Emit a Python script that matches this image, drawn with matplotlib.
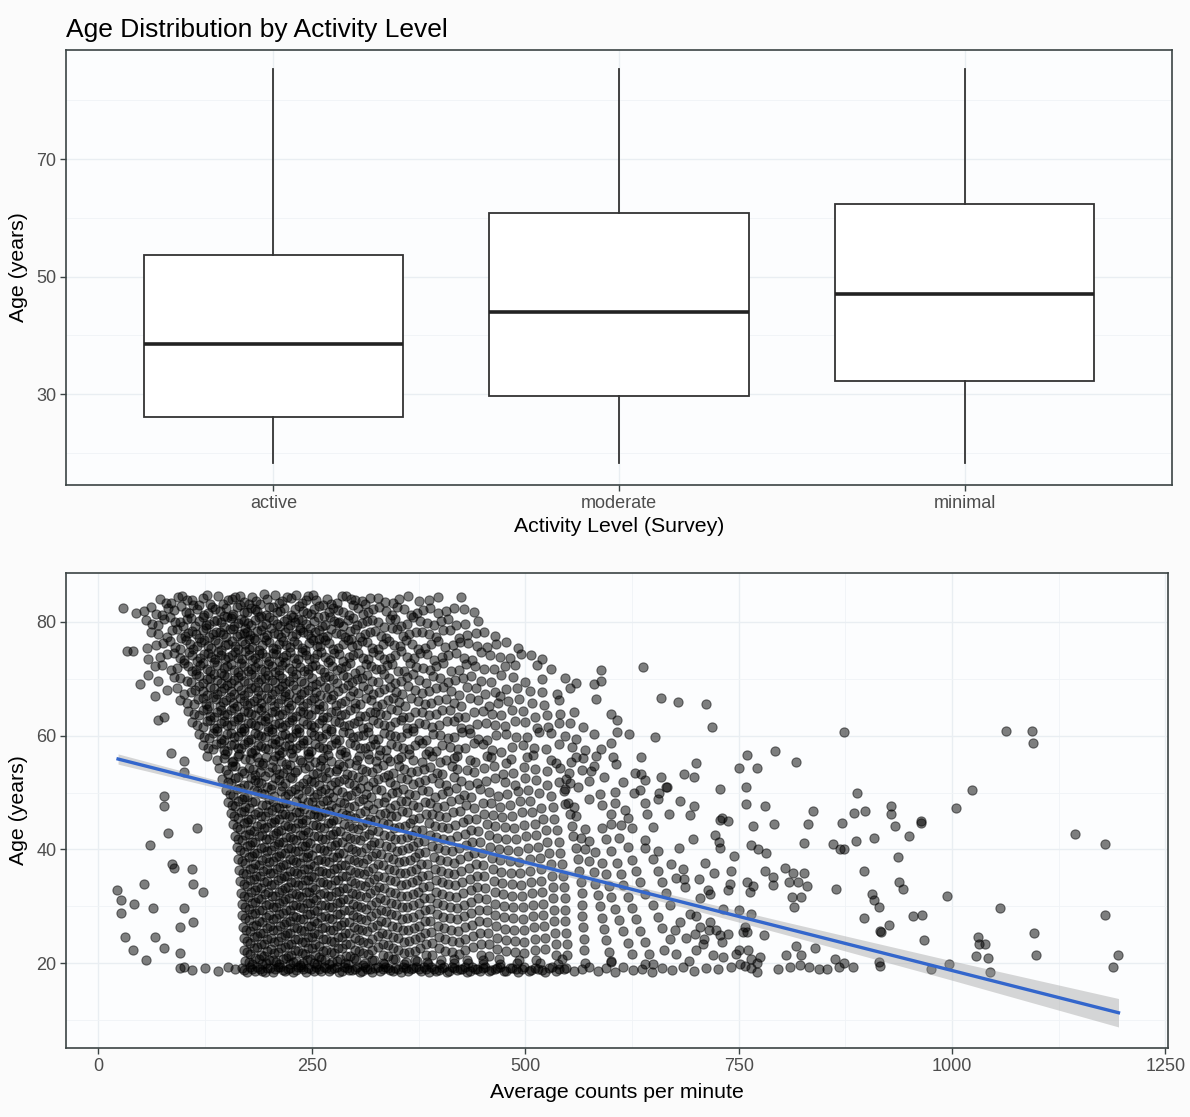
import numpy as np
import matplotlib.pyplot as plt
from matplotlib.ticker import FixedLocator

plt.rcParams['font.family'] = ['Liberation Sans', 'DejaVu Sans']

# --- box plot summary (age by activity level) ---
levels = ['active', 'moderate', 'minimal']
whisker_low = [18.3, 18.3, 18.3]
q1 = [26.1, 29.7, 32.2]
median = [38.6, 44.0, 47.1]
q3 = [53.7, 60.9, 62.3]
whisker_high = [85.3, 85.3, 85.3]

# --- scatter: (average counts per minute, age) ---
upper_pts = [
    # 83-85
    (72,84.1),(85,83.4),(98,84.5),(110,83.8),(122,84.2),(131,83.2),(140,84.6),(152,83.9),(160,84.3),(171,83.5),
    (180,84.4),(189,83.1),(198,84.0),(207,84.7),(215,83.6),(226,84.2),(238,83.3),(246,84.5),(255,83.9),(268,84.1),
    (279,83.4),(290,84.6),(301,83.8),(318,84.2),(336,83.5),(352,84.0),(375,83.6),(398,84.3),(425,84.4),(118,83.0),
    (176,83.1),(232,84.8),(263,83.0),(312,83.1),
    # 81-83
    (29,82.4),(44,81.5),(62,82.6),(75,81.3),(88,82.1),(97,82.8),(106,81.6),(115,82.3),(124,81.2),(133,82.7),
    (142,81.9),(150,82.4),(158,81.4),(166,82.9),(174,81.7),(183,82.2),(191,81.1),(200,82.6),(209,81.8),(217,82.4),
    (226,81.3),(235,82.8),(244,81.6),(253,82.2),(264,81.0),(275,82.5),(287,81.7),(298,82.9),(310,81.4),(322,82.3),
    (337,81.9),(350,82.6),(366,81.3),(380,82.1),(398,81.6),(416,82.4),(440,81.8),(186,82.0),(240,82.0),(156,81.0),
    # 79-81
    (56,80.3),(70,79.4),(84,80.8),(95,79.9),(104,80.5),(113,79.2),(122,80.9),(130,79.7),(139,80.4),(147,79.1),
    (155,80.7),(163,79.8),(171,80.2),(179,79.4),(188,80.9),(196,79.6),(204,80.4),(213,79.2),(221,80.6),(230,79.9),
    (239,80.3),(248,79.0),(257,80.8),(266,79.5),(276,80.1),(287,79.3),(298,80.7),(309,79.8),(321,80.3),(334,79.1),
    (348,80.6),(362,79.7),(377,80.2),(393,79.4),(410,80.5),(430,79.6),(118,80.1),(172,79.0),(228,80.9),(282,79.9),
    # 77-79
    (62,78.3),(80,77.4),(92,78.8),(101,77.6),(110,78.4),(118,77.1),(126,78.9),(134,77.8),(142,78.2),(150,77.3),
    (158,78.7),(166,77.9),(174,78.3),(182,77.2),(190,78.6),(198,77.7),(206,78.1),(214,77.4),(222,78.9),(231,77.8),
    (240,78.3),(249,77.1),(258,78.6),(268,77.6),(278,78.1),(289,77.3),(300,78.8),(312,77.9),(324,78.4),(337,77.2),
    (350,78.7),(364,77.8),(379,78.2),(395,77.4),(412,78.5),(432,77.7),(452,78.3),(176,77.0),(236,79.0),(296,77.0),
    # 75-77
    (57,75.4),(76,76.3),(90,75.6),(102,76.8),(111,75.3),(120,76.5),(128,75.8),(136,76.9),(144,75.1),(152,76.2),
    (160,75.7),(168,76.6),(176,75.2),(184,76.9),(192,75.9),(200,76.4),(208,75.3),(216,76.7),(224,75.6),(233,76.2),
    (242,75.1),(251,76.8),(260,75.7),(270,76.3),(281,75.4),(292,76.9),(303,75.9),(315,76.4),(327,75.2),(340,76.6),
    (353,75.8),(367,76.2),(382,75.4),(398,76.7),(415,75.9),(433,76.3),(455,75.6),(478,76.5),(188,75.0),(258,77.0),
    # 73-75
    (33,74.9),(41,74.9),(58,73.5),(80,74.4),(95,73.7),(106,74.8),(115,73.2),(124,74.3),(132,73.9),(140,74.7),
    (148,73.4),(156,74.1),(164,73.6),(172,74.9),(180,73.3),(188,74.4),(196,73.8),(204,74.6),(212,73.1),(220,74.2),
    (229,73.7),(238,74.8),(247,73.4),(256,74.3),(266,73.9),(276,74.6),(287,73.2),(298,74.1),(310,73.7),(322,74.8),
    (335,73.4),(348,74.2),(362,73.8),(377,74.5),(393,73.3),(410,74.1),(428,73.6),(448,74.7),(470,73.9),(495,74.3),
    (520,73.5),
    # 71-73
    (66,72.2),(85,71.5),(100,72.7),(110,71.3),(119,72.5),(127,71.8),(135,72.9),(143,71.1),(151,72.3),(159,71.6),
    (167,72.8),(175,71.4),(183,72.1),(191,71.7),(199,72.6),(207,71.2),(215,72.4),(223,71.9),(232,72.7),(241,71.3),
    (250,72.2),(259,71.8),(269,72.9),(279,71.5),(290,72.3),(301,71.1),(313,72.6),(325,71.7),(338,72.4),(351,71.4),
    (365,72.8),(380,71.9),(396,72.2),(413,71.3),(431,72.6),(452,71.8),(476,72.3),(514,72.4),(589,71.5),(638,72.1),
    # 69-71
    (49,69.1),(58,70.7),(88,70.4),(104,69.6),(114,70.8),(123,69.3),(131,70.2),(139,69.8),(147,70.6),(155,69.2),
    (163,70.4),(171,69.7),(179,70.9),(187,69.4),(195,70.1),(203,69.8),(211,70.7),(219,69.3),(228,70.3),(237,69.6),
    (246,70.8),(255,69.1),(265,70.4),(275,69.9),(286,70.6),(297,69.4),(309,70.2),(321,69.7),(334,70.9),(347,69.2),
    (361,70.3),(376,69.8),(392,70.5),(409,69.4),(427,70.2),(448,69.7),(472,70.6),(500,69.5),(546,70.1),(581,69.1),
    (589,69.7),
    # 67-69
    (66,66.9),(92,68.3),(108,67.6),(118,68.7),(127,67.2),(135,68.4),(143,67.8),(151,68.9),(159,67.4),(167,68.1),
    (175,67.7),(183,68.6),(191,67.1),(199,68.3),(207,67.9),(215,68.8),(223,67.3),(232,68.2),(241,67.6),(250,68.7),
    (260,67.2),(270,68.4),(281,67.8),(292,68.9),(304,67.5),(316,68.2),(329,67.7),(342,68.6),(356,67.3),(371,68.1),
    (387,67.8),(404,68.5),(422,67.2),(442,68.3),(465,67.7),(490,68.4),(520,67.6),(553,68.3),(470,67.0),
    # 65-67
    (96,66.3),(112,65.5),(122,66.7),(130,65.2),(138,66.4),(146,65.9),(154,66.8),(162,65.3),(170,66.1),(178,65.7),
    (186,66.6),(194,65.1),(202,66.3),(210,65.8),(218,66.9),(226,65.4),(235,66.2),(244,65.7),(253,66.7),(263,65.2),
    (273,66.4),(284,65.8),(295,66.9),(307,65.5),(319,66.2),(332,65.6),(345,66.7),(359,65.3),(374,66.1),(390,65.8),
    (407,66.5),(425,65.2),(445,66.3),(468,65.7),(493,66.4),(522,65.4),(583,66.5),(659,66.7),(679,65.9),(712,65.6),
    # 63-65
    (105,64.3),(118,63.6),(127,64.7),(135,63.2),(143,64.5),(151,63.8),(159,64.9),(167,63.3),(175,64.2),(183,63.7),
    (191,64.6),(199,63.1),(207,64.4),(215,63.9),(223,64.8),(231,63.4),(240,64.1),(249,63.6),(258,64.7),(268,63.2),
    (278,64.3),(289,63.8),(300,64.9),(312,63.5),(324,64.2),(337,63.7),(350,64.6),(364,63.3),(379,64.1),(395,63.8),
    (412,64.5),(430,63.2),(450,64.3),(472,63.7),(497,64.4),(525,63.6),(557,64.2),(70,62.7),(77,63.2),(600,63.9),
    # 61-63
    (110,62.4),(122,61.6),(131,62.8),(139,61.3),(147,62.5),(155,61.9),(163,62.9),(171,61.4),(179,62.2),(187,61.7),
    (195,62.6),(203,61.1),(211,62.3),(219,61.8),(227,62.7),(235,61.3),(244,62.1),(253,61.6),(262,62.8),(272,61.2),
    (282,62.4),(293,61.9),(304,62.6),(316,61.5),(328,62.2),(341,61.7),(354,62.8),(368,61.3),(383,62.1),(399,61.8),
    (416,62.5),(434,61.2),(454,62.3),(476,61.7),(500,62.4),(527,61.6),(553,62.3),(568,61.5),(607,62.7),(719,61.5),
    (873,60.6),
    # 59-61
    (118,60.3),(130,59.6),(139,60.8),(147,59.3),(155,60.5),(163,59.9),(171,60.9),(179,59.4),(187,60.2),(195,59.7),
    (203,60.6),(211,59.1),(219,60.3),(227,59.8),(235,60.7),(244,59.3),(253,60.1),(262,59.6),(272,60.8),(282,59.2),
    (293,60.4),(304,59.9),(316,60.6),(328,59.5),(341,60.2),(355,59.7),(369,60.8),(384,59.3),(400,60.1),(417,59.8),
    (435,60.5),(455,59.2),(477,60.3),(502,59.7),(530,60.4),(546,60.0),(581,60.3),(608,60.6),(621,60.3),(652,59.7),
    (1063,60.9),(1094,60.9),
    # 57-59
    (122,58.4),(134,57.6),(143,58.8),(151,57.3),(159,58.5),(167,57.9),(175,58.9),(183,57.4),(191,58.2),(199,57.7),
    (207,58.6),(215,57.1),(223,58.3),(231,57.8),(240,58.7),(249,57.3),(258,58.1),(268,57.6),(278,58.8),(289,57.2),
    (300,58.4),(312,57.9),(324,58.6),(337,57.5),(350,58.2),(364,57.7),(379,58.8),(395,57.3),(412,58.1),(430,57.8),
    (450,58.5),(472,57.2),(497,58.3),(524,57.7),(555,58.1),(589,57.7),(600,58.7),(1095,58.7),
]

lower_pts = [
    # 55-57
    (85,56.9),(100,55.6),(127,56.4),(139,55.7),(148,56.8),(156,55.3),(164,56.5),(172,55.9),(180,56.9),(188,55.4),
    (196,56.2),(204,55.7),(212,56.6),(220,55.1),(228,56.3),(236,55.8),(245,56.7),(254,55.3),(263,56.1),(273,55.6),
    (283,56.8),(294,55.2),(305,56.4),(317,55.9),(329,56.6),(342,55.5),(355,56.2),(369,55.7),(384,56.8),(400,55.3),
    (417,56.1),(435,55.8),(455,56.5),(477,55.2),(502,56.3),(530,55.7),(554,55.3),(560,56.3),(583,56.5),(603,56.3),
    (606,55.0),(636,56.2),(700,55.2),(760,56.6),(793,57.3),(817,55.3),
    # 53-55
    (100,53.6),(141,54.4),(152,53.2),(160,54.7),(168,53.8),(176,54.3),(184,53.1),(192,54.9),(200,53.6),(208,54.2),
    (216,53.4),(224,54.8),(233,53.9),(242,54.3),(251,53.2),(260,54.6),(270,53.7),(280,54.1),(291,53.3),(302,54.8),
    (314,53.8),(326,54.4),(339,53.1),(352,54.6),(366,53.7),(381,54.2),(397,53.4),(414,54.7),(432,53.9),(452,54.3),
    (474,53.2),(498,54.5),(525,53.8),(541,54.4),(551,53.5),(577,53.8),(580,54.6),(629,53.5),(636,53.2),(686,53.3),
    (751,54.4),(771,54.4),
    # 51-53
    (145,52.3),(155,51.6),(163,52.8),(171,51.3),(179,52.5),(187,51.9),(195,52.9),(203,51.4),(211,52.2),(219,51.7),
    (227,52.6),(235,51.1),(244,52.3),(253,51.8),(262,52.7),(272,51.3),(282,52.1),(293,51.6),(304,52.8),(316,51.2),
    (328,52.4),(341,51.9),(354,52.6),(368,51.5),(383,52.2),(399,51.7),(416,52.8),(434,51.3),(454,52.1),(476,51.8),
    (500,52.5),(526,51.4),(548,52.3),(553,51.6),(592,52.7),(614,51.8),(640,52.2),(659,52.7),(698,52.7),(666,51.0),
    # 49-51
    (77,49.4),(150,50.4),(158,49.6),(166,50.8),(174,49.3),(182,50.5),(190,49.9),(198,50.9),(206,49.4),(214,50.2),
    (222,49.7),(230,50.6),(238,49.1),(247,50.3),(256,49.8),(265,50.7),(275,49.3),(285,50.1),(296,49.6),(307,50.8),
    (319,49.2),(331,50.4),(344,49.9),(357,50.6),(371,49.5),(386,50.2),(402,49.7),(419,50.8),(437,49.3),(457,50.1),
    (479,49.8),(503,50.5),(530,49.4),(547,50.6),(562,50.9),(587,49.8),(627,49.9),(634,50.5),(657,50.0),(665,50.9),
    (728,50.6),(759,50.9),(889,50.0),(1023,50.5),
    # 47-49
    (77,47.6),(152,48.4),(160,47.6),(168,48.8),(176,47.3),(184,48.5),(192,47.9),(200,48.9),(208,47.4),(216,48.2),
    (224,47.7),(232,48.6),(241,47.1),(250,48.3),(259,47.8),(268,48.7),(278,47.3),(288,48.1),(299,47.6),(310,48.8),
    (322,47.2),(334,48.4),(347,47.9),(360,48.6),(374,47.5),(389,48.2),(405,47.7),(422,48.8),(440,47.3),(460,48.1),
    (482,47.8),(506,48.5),(532,47.4),(550,48.2),(557,47.5),(575,48.8),(605,48.2),(617,47.0),(656,48.8),(681,48.5),
    (698,47.7),(759,48.0),(781,47.7),(929,47.7),(1005,47.3),
    # 45-47
    (155,46.4),(163,45.6),(171,46.8),(179,45.3),(187,46.5),(195,45.9),(203,46.9),(211,45.4),(219,46.2),(227,45.7),
    (235,46.6),(243,45.1),(252,46.3),(261,45.8),(270,46.7),(280,45.3),(290,46.1),(301,45.6),(312,46.8),(324,45.2),
    (336,46.4),(349,45.9),(362,46.6),(376,45.5),(391,46.2),(407,45.7),(424,46.8),(442,45.3),(462,46.1),(484,45.8),
    (508,46.5),(534,45.4),(552,46.3),(643,46.3),(669,46.2),(693,46.0),(731,45.5),(737,45.0),(728,45.1),(837,46.7),
    (885,46.4),(898,46.7),(928,46.2),(964,45.0),
    # 43-45
    (116,43.7),(158,44.4),(166,43.6),(174,44.8),(182,43.3),(190,44.5),(198,43.9),(206,44.9),(214,43.4),(222,44.2),
    (230,43.7),(238,44.6),(246,43.1),(255,44.3),(264,43.8),(273,44.7),(283,43.3),(293,44.1),(304,43.6),(315,44.8),
    (327,43.2),(339,44.4),(352,43.9),(365,44.6),(379,43.5),(394,44.2),(410,43.7),(427,44.8),(445,43.3),(465,44.1),
    (487,43.8),(511,44.5),(537,43.4),(555,44.2),(570,43.6),(600,44.5),(625,43.8),(650,44.0),(767,44.2),(792,44.4),
    (831,44.4),(871,44.7),(933,44.2),(964,44.7),(81,42.9),
    # 41-43
    (160,42.4),(168,41.6),(176,42.8),(184,41.3),(192,42.5),(200,41.9),(208,42.9),(216,41.4),(224,42.2),(232,41.7),
    (240,42.6),(248,41.1),(257,42.3),(266,41.8),(275,42.7),(285,41.3),(295,42.1),(306,41.6),(317,42.8),(329,41.2),
    (341,42.4),(354,41.9),(367,42.6),(381,41.5),(396,42.2),(412,41.7),(429,42.8),(447,41.3),(467,42.1),(489,41.8),
    (513,42.5),(539,41.4),(556,42.3),(575,41.5),(610,42.0),(640,41.6),(696,41.9),(722,42.5),(727,41.3),(826,41.2),
    (887,41.5),(861,40.9),(909,42.1),(950,42.3),(1144,42.7),
    # 39-41
    (60,40.7),(162,40.4),(170,39.6),(178,40.8),(186,39.3),(194,40.5),(202,39.9),(210,40.9),(218,39.4),(226,40.2),
    (234,39.7),(242,40.6),(250,39.1),(259,40.3),(268,39.8),(277,40.7),(287,39.3),(297,40.1),(308,39.6),(319,40.8),
    (331,39.2),(343,40.4),(356,39.9),(369,40.6),(383,39.5),(398,40.2),(414,39.7),(431,40.8),(449,39.3),(469,40.1),
    (491,39.8),(515,40.5),(541,39.4),(560,40.2),(582,39.6),(620,40.4),(655,39.8),(680,40.2),(728,40.3),(764,40.7),
    (773,40.0),(782,39.3),(869,40.0),(874,40.0),(1179,40.9),
    # 37-39
    (86,37.5),(164,38.4),(172,37.6),(180,38.8),(188,37.3),(196,38.5),(204,37.9),(212,38.9),(220,37.4),(228,38.2),
    (236,37.7),(244,38.6),(252,37.1),(261,38.3),(270,37.8),(279,38.7),(289,37.3),(299,38.1),(310,37.6),(321,38.8),
    (333,37.2),(345,38.4),(358,37.9),(371,38.6),(385,37.5),(400,38.2),(416,37.7),(433,38.8),(451,37.3),(471,38.1),
    (493,37.8),(517,38.5),(543,37.4),(562,38.3),(590,37.6),(625,38.2),(671,37.5),(711,37.7),(744,38.9),(937,38.6),
    # 35-37
    (88,36.8),(110,36.5),(165,36.4),(173,35.6),(181,36.8),(189,35.3),(197,36.5),(205,35.9),(213,36.9),(221,35.4),
    (229,36.2),(237,35.7),(245,36.6),(253,35.1),(262,36.3),(271,35.8),(280,36.7),(290,35.3),(300,36.1),(311,35.6),
    (322,36.8),(334,35.2),(346,36.4),(359,35.9),(372,36.6),(386,35.5),(401,36.2),(417,35.7),(434,36.8),(452,35.3),
    (472,36.1),(494,35.8),(518,36.5),(544,35.4),(563,36.3),(595,35.6),(630,36.2),(677,35.0),(685,36.6),(721,35.8),
    (741,36.2),(781,36.2),(790,35.2),(804,36.8),(814,35.9),(826,35.9),(897,36.2),
    # 33-35
    (53,33.9),(111,34.0),(166,34.4),(174,33.6),(182,34.8),(190,33.3),(198,34.5),(206,33.9),(214,34.9),(222,33.4),
    (230,34.2),(238,33.7),(246,34.6),(254,33.1),(263,34.3),(272,33.8),(281,34.7),(291,33.3),(301,34.1),(312,33.6),
    (323,34.8),(335,33.2),(347,34.4),(360,33.9),(373,34.6),(387,33.5),(402,34.2),(418,33.7),(435,34.8),(453,33.3),
    (473,34.1),(495,33.8),(519,34.5),(545,33.4),(565,34.3),(598,33.6),(635,34.2),(686,34.8),(687,33.4),(704,34.8),
    (740,33.9),(760,34.3),(767,33.5),(790,33.7),(809,34.2),(819,34.2),(830,33.5),(864,33.0),(938,34.2),(943,33.0),
    # 31-33
    (22,32.8),(26,31.2),(123,32.5),(167,32.4),(175,31.6),(183,32.8),(191,31.3),(199,32.5),(207,31.9),(215,32.9),
    (223,31.4),(231,32.2),(239,31.7),(247,32.6),(255,31.1),(264,32.3),(273,31.8),(282,32.7),(292,31.3),(302,32.1),
    (313,31.6),(324,32.8),(336,31.2),(348,32.4),(361,31.9),(374,32.6),(388,31.5),(403,32.2),(419,31.7),(436,32.8),
    (454,31.3),(474,32.1),(496,31.8),(520,32.5),(546,31.4),(566,32.3),(600,31.6),(640,32.2),(705,31.5),(714,32.8),
    (717,32.1),(737,32.8),(763,32.6),(813,31.7),(823,31.7),(906,32.2),(908,31.2),(994,31.8),
    # 29-31
    (42,30.4),(64,29.7),(100,29.7),(168,30.4),(176,29.6),(184,30.8),(192,29.3),(200,30.5),(208,29.9),(216,30.9),
    (224,29.4),(232,30.2),(240,29.7),(248,30.6),(256,29.1),(265,30.3),(274,29.8),(283,30.7),(293,29.3),(303,30.1),
    (314,29.6),(325,30.8),(337,29.2),(349,30.4),(362,29.9),(375,30.6),(389,29.5),(404,30.2),(420,29.7),(437,30.8),
    (455,29.3),(475,30.1),(497,29.8),(521,30.5),(547,29.4),(567,30.3),(605,29.6),(650,30.2),(732,29.6),(751,29.3),
    (815,29.9),(915,29.9),(1056,29.7),
    # 27-29
    (26,28.8),(111,27.2),(168,28.4),(176,27.6),(184,28.8),(192,27.3),(200,28.5),(208,27.9),(216,28.9),(224,27.4),
    (232,28.2),(240,27.7),(248,28.6),(256,27.1),(265,28.3),(274,27.8),(283,28.7),(293,27.3),(303,28.1),(314,27.6),
    (325,28.8),(337,27.2),(349,28.4),(362,27.9),(375,28.6),(389,27.5),(404,28.2),(420,27.7),(437,28.8),(455,27.3),
    (475,28.1),(497,27.8),(521,28.5),(547,27.4),(567,28.3),(610,27.6),(655,28.2),(681,27.2),(693,28.7),(717,27.2),
    (765,28.6),(897,28.0),(954,28.3),(965,28.5),(1179,28.5),
    # 25-27
    (96,26.4),(169,26.4),(177,25.6),(185,26.8),(193,25.3),(201,26.5),(209,25.9),(217,26.9),(225,25.4),(233,26.2),
    (241,25.7),(249,26.6),(257,25.1),(266,26.3),(275,25.8),(284,26.7),(294,25.3),(304,26.1),(315,25.6),(326,26.8),
    (338,25.2),(350,26.4),(363,25.9),(376,26.6),(390,25.5),(405,26.2),(421,25.7),(438,26.8),(456,25.3),(476,26.1),
    (498,25.8),(522,26.5),(548,25.4),(568,26.3),(615,25.6),(660,26.2),(675,25.9),(699,25.2),(715,25.8),(724,25.9),
    (738,25.2),(755,25.5),(760,25.5),(758,26.4),(926,26.7),(917,25.5),(916,25.6),(1096,25.3),
    # 23-25
    (31,24.7),(66,24.7),(170,24.4),(178,23.6),(186,24.8),(194,23.3),(202,24.5),(210,23.9),(218,24.9),(226,23.4),
    (234,24.2),(242,23.7),(250,24.6),(258,23.1),(267,24.3),(276,23.8),(285,24.7),(295,23.3),(305,24.1),(316,23.6),
    (327,24.8),(339,23.2),(351,24.4),(364,23.9),(377,24.6),(391,23.5),(406,24.2),(422,23.7),(439,24.8),(457,23.3),
    (477,24.1),(499,23.8),(523,24.5),(549,23.4),(569,24.3),(620,23.6),(670,24.3),(688,24.5),(708,23.4),(728,24.9),
    (730,23.7),(780,24.9),(817,23.0),(967,24.1),(1030,24.7),(1032,23.3),(1039,23.4),
    # 21-23
    (41,22.4),(77,22.7),(95,21.8),(170,22.4),(178,21.6),(186,22.8),(194,21.3),(202,22.5),(210,21.9),(218,22.9),
    (226,21.4),(234,22.2),(242,21.7),(250,22.6),(258,21.1),(267,22.3),(276,21.8),(285,22.7),(295,21.3),(305,22.1),
    (316,21.6),(327,22.8),(339,21.2),(351,22.4),(364,21.9),(377,22.6),(391,21.5),(406,22.2),(422,21.7),(439,22.8),
    (457,21.3),(477,22.1),(499,21.8),(523,22.5),(549,21.4),(569,22.3),(625,21.6),(662,22.4),(677,21.7),(720,21.5),
    (732,21.1),(747,21.7),(751,22.3),(761,22.3),(775,21.1),(806,21.5),(823,21.4),(840,22.7),(1028,21.2),(1042,20.9),
    (1098,21.5),(1194,21.5),
    # 19.6-21
    (56,20.6),(172,20.4),(180,19.8),(188,20.8),(196,20.1),(204,20.6),(212,19.9),(220,20.9),(228,20.2),(236,19.7),
    (244,20.5),(252,20.0),(261,20.8),(270,19.8),(279,20.4),(289,20.1),(299,20.9),(310,19.7),(321,20.5),(333,20.0),
    (345,20.7),(358,19.9),(371,20.6),(385,20.2),(400,19.8),(416,20.7),(433,20.1),(451,20.5),(471,19.9),(493,20.6),
    (517,20.0),(543,20.8),(570,20.1),(600,20.4),(640,19.9),(692,20.4),(752,19.8),(758,19.6),(771,20.0),(764,20.8),
    (822,19.7),(863,20.8),(873,20.0),(915,20.2),(997,19.8),(916,19.6),(1189,19.4),
]

# second, interleaved layer of the dense core (x 60-600)
core_pts = [
    (79,83.3),(93,84.4),(104,83.8),(127,84.8),(146,83.1),(157,84.1),(166,84.6),(185,83.6),(194,84.9),(212,83.4),
    (221,84.3),(243,83.9),(251,84.7),(273,83.2),(285,84.5),(296,84.0),(309,83.7),(327,84.2),(345,83.4),(363,84.6),
    (387,83.9),
    (53,82.0),(68,81.4),(81,82.5),(102,81.8),(111,82.9),(128,81.5),(137,82.2),(147,81.1),(162,82.6),(170,81.8),
    (179,82.4),(196,81.3),(205,82.7),(213,81.9),(230,82.3),(249,81.4),(258,82.8),(270,81.7),(281,82.1),(293,81.2),
    (304,82.5),(316,81.8),(329,82.7),(344,81.3),(358,82.2),(373,81.6),(389,82.5),(407,81.9),(428,82.2),
    (63,79.6),(77,80.6),(90,80.0),(99,79.3),(108,80.7),(126,79.5),(135,80.2),(143,79.9),(151,80.9),(159,79.3),
    (167,80.5),(175,79.8),(184,80.3),(192,79.2),(200,80.8),(209,79.7),(217,80.1),(225,79.4),(234,80.6),(243,79.6),
    (252,80.2),(262,79.3),(271,80.9),(281,79.8),(292,80.4),(303,79.5),(315,80.1),(327,79.9),(341,80.5),(355,79.3),
    (369,80.8),(385,79.8),(401,80.2),(419,79.5),(445,80.1),
    (70,77.8),(86,78.5),(97,77.2),(105,78.1),(114,77.8),(122,78.6),(130,77.4),(138,78.3),(146,77.9),(154,78.8),
    (162,77.5),(170,78.1),(178,77.7),(186,78.4),(194,77.3),(202,78.9),(210,77.8),(218,78.3),(227,77.5),(236,78.6),
    (245,77.9),(254,78.2),(263,77.4),(273,78.7),(284,77.9),(295,78.4),(306,77.3),(318,78.2),(331,77.6),(344,78.9),
    (357,77.5),(372,78.3),(387,77.9),(404,78.6),(422,77.2),(442,78.0),(465,77.6),
    (68,75.9),(84,76.6),(96,75.2),(107,76.1),(116,75.8),(124,76.9),(132,75.4),(140,76.3),(148,75.9),(156,76.7),
    (164,75.2),(172,76.1),(180,75.6),(196,76.8),(204,75.5),(212,76.2),(220,75.9),(229,76.6),(238,75.4),(247,76.3),
    (256,75.8),(265,76.9),(275,75.3),(286,76.1),(297,75.7),(309,76.6),(321,75.5),(333,76.2),(346,75.9),(360,76.8),
    (374,75.3),(390,76.1),(406,75.6),(424,76.4),(444,75.8),(466,76.1),(492,75.5),
    (72,73.9),(88,74.5),(100,73.3),(110,74.1),(119,73.7),(128,74.6),(136,73.4),(144,74.2),(152,73.8),(160,74.8),
    (168,73.5),(176,74.1),(184,73.7),(192,74.6),(200,73.2),(208,74.3),(216,73.9),(225,74.7),(234,73.5),(243,74.1),
    (252,73.6),(261,74.8),(271,73.3),(282,74.4),(293,73.9),(304,74.6),(316,73.4),(329,74.2),(342,73.7),(355,74.9),
    (370,73.6),(385,74.3),(402,73.8),(419,74.5),(438,73.3),(459,74.2),(482,73.7),(507,74.1),
    (75,72.5),(92,71.9),(105,72.2),(114,71.5),(123,72.8),(131,71.3),(139,72.4),(147,71.9),(155,72.6),(163,71.2),
    (171,72.3),(179,71.8),(187,72.7),(195,71.4),(203,72.2),(211,71.6),(219,72.9),(227,71.3),(236,72.1),(245,71.7),
    (254,72.5),(264,71.2),(274,72.3),(284,71.9),(295,72.7),(307,71.5),(319,72.2),(331,71.8),(344,72.6),(358,71.3),
    (372,72.1),(388,71.6),(404,72.8),(422,71.5),(441,72.2),(463,71.7),(488,72.4),(530,71.8),
    (70,69.6),(96,70.1),(109,69.4),(118,70.5),(127,69.9),(135,70.8),(143,69.3),(151,70.3),(159,69.8),(167,70.6),
    (175,69.2),(183,70.4),(191,69.9),(199,70.7),(207,69.4),(215,70.2),(223,69.7),(232,70.9),(241,69.3),(250,70.1),
    (260,69.6),(270,70.5),(280,69.2),(291,70.4),(303,69.9),(315,70.7),(328,69.4),(340,70.1),(354,69.6),(368,70.8),
    (384,69.3),(400,70.2),(418,69.8),(437,70.5),(460,69.4),(486,70.3),(520,69.9),(560,69.2),
    (80,68.0),(100,67.3),(113,68.1),(122,67.8),(131,68.6),(139,67.4),(147,68.3),(155,67.8),(163,68.7),(171,67.2),
    (179,68.4),(187,67.9),(195,68.5),(203,67.3),(211,68.2),(219,67.7),(228,68.9),(237,67.4),(246,68.1),(255,67.6),
    (265,68.6),(275,67.2),(286,68.3),(298,67.8),(310,68.7),(322,67.4),(335,68.2),(349,67.6),(363,68.8),(379,67.5),
    (395,68.3),(413,67.8),(432,68.5),(453,67.3),(478,68.2),(505,67.9),(537,67.4),
    (104,65.8),(117,66.4),(126,65.6),(134,66.8),(142,65.3),(150,66.2),(158,65.7),(166,66.6),(174,65.4),(182,66.1),
    (190,65.8),(198,66.7),(206,65.2),(214,66.4),(222,65.9),(231,66.6),(240,65.3),(249,66.2),(258,65.6),(268,66.8),
    (278,65.4),(289,66.1),(301,65.7),(313,66.6),(326,65.2),(339,66.3),(352,65.9),(366,66.7),(382,65.5),(398,66.2),
    (416,65.7),(435,66.6),(457,65.3),(480,66.1),(508,65.8),(540,66.3),
    (112,63.9),(122,64.6),(131,63.4),(139,64.2),(147,63.7),(155,64.6),(163,63.2),(171,64.3),(179,63.8),(187,64.8),
    (195,63.5),(203,64.1),(211,63.6),(219,64.5),(227,63.2),(236,64.4),(245,63.9),(254,64.7),(263,63.3),(273,64.2),
    (284,63.7),(295,64.6),(306,63.4),(318,64.1),(330,63.8),(343,64.7),(357,63.3),(371,64.2),(387,63.7),(403,64.5),
    (421,63.3),(440,64.1),(461,63.8),(485,64.6),(511,63.3),(541,63.9),
    (116,61.9),(127,62.6),(135,61.4),(143,62.2),(151,61.8),(159,62.5),(167,61.3),(175,62.3),(183,61.9),(191,62.8),
    (199,61.5),(207,62.1),(215,61.6),(223,62.4),(231,61.2),(240,62.5),(249,61.9),(258,62.3),(267,61.4),(277,62.6),
    (288,61.7),(299,62.2),(310,61.3),(322,62.7),(335,61.9),(348,62.4),(361,61.4),(376,62.3),(391,61.6),(408,62.6),
    (425,61.4),(444,62.1),(465,61.9),(488,62.6),(514,61.3),(540,62.2),
    (124,59.8),(134,60.5),(143,59.4),(151,60.3),(159,59.8),(167,60.6),(175,59.2),(183,60.4),(191,59.9),(199,60.8),
    (207,59.5),(215,60.2),(223,59.6),(231,60.4),(240,59.3),(249,60.6),(258,59.9),(267,60.3),(277,59.4),(287,60.7),
    (298,59.8),(310,60.2),(322,59.4),(335,60.5),(348,59.9),(362,60.4),(376,59.3),(392,60.3),(409,59.6),(426,60.7),
    (445,59.4),(466,60.1),(489,59.8),(516,60.6),(560,59.4),
    (128,57.9),(138,58.6),(147,57.4),(155,58.3),(163,57.8),(171,58.6),(179,57.2),(187,58.4),(195,57.9),(203,58.8),
    (211,57.5),(219,58.2),(227,57.6),(236,58.4),(245,57.3),(254,58.6),(263,57.9),(273,58.3),(284,57.4),(295,58.7),
    (306,57.8),(318,58.2),(330,57.4),(343,58.5),(357,57.9),(371,58.4),(387,57.3),(403,58.3),(421,57.6),(440,58.7),
    (461,57.4),(484,58.1),(510,57.8),(540,58.6),(570,57.4),
    (147,56.1),(158,55.5),(165,56.7),(177,55.9),(186,56.3),(193,55.2),(207,56.5),(214,55.6),(226,56.9),(239,55.4),
    (247,56.2),(261,55.8),(269,56.6),(282,55.1),(290,56.4),(303,55.7),(316,56.8),(325,55.5),(338,56.1),(351,55.9),
    (364,56.7),(379,55.3),(391,56.4),(407,55.8),(420,56.5),(441,55.4),(460,56.2),(483,55.9),(509,56.6),(536,55.2),
    (568,56.0),
    (150,53.9),(157,54.6),(170,53.4),(181,54.2),(189,53.7),(203,54.5),(211,53.3),(221,54.1),(230,53.6),(247,54.7),
    (256,53.4),(265,54.3),(278,53.8),(287,54.6),(297,53.1),(309,54.2),(320,53.7),(333,54.9),(345,53.5),(358,54.1),
    (373,53.8),(388,54.5),(402,53.3),(420,54.2),(440,53.7),(463,54.6),(486,53.4),(512,54.1),(566,53.9),
    (152,51.8),(160,52.6),(175,51.4),(183,52.2),(191,51.6),(207,52.5),(215,51.2),(224,52.8),(240,51.6),(249,52.1),
    (258,51.3),(267,52.6),(277,51.9),(288,52.4),(299,51.3),(310,52.2),(322,51.8),(334,52.7),(347,51.4),(361,52.3),
    (375,51.8),(391,52.5),(407,51.3),(425,52.1),(444,51.7),(465,52.6),(488,51.3),(513,52.2),(540,51.8),(575,52.1),
    (154,49.8),(162,50.6),(170,49.3),(186,50.2),(194,49.7),(202,50.6),(218,49.4),(226,50.3),(234,49.8),(243,50.7),
    (252,49.3),(261,50.2),(270,49.9),(280,50.5),(291,49.4),(302,50.3),(313,49.7),(325,50.6),(337,49.3),(350,50.1),
    (364,49.8),(379,50.4),(394,49.3),(410,50.2),(428,49.6),(447,50.7),(468,49.4),(491,50.2),(516,49.9),(545,50.3),
    (605,50.1),
    (156,47.9),(164,48.6),(172,47.4),(180,48.3),(196,47.8),(204,48.5),(212,47.3),(220,48.1),(237,47.6),(245,48.4),
    (254,47.2),(263,48.6),(273,47.9),(283,48.3),(294,47.4),(305,48.6),(316,47.8),(328,48.2),(341,47.3),(354,48.5),
    (368,47.9),(382,48.3),(397,47.4),(413,48.6),(431,47.8),(450,48.2),(471,47.5),(494,48.6),(519,47.3),(547,48.0),
    (590,47.8),(640,48.1),
    (159,45.9),(167,46.6),(175,45.4),(183,46.3),(191,45.8),(199,46.6),(207,45.3),(215,46.2),(223,45.8),(231,46.6),
    (239,45.4),(248,46.3),(257,45.9),(266,46.6),(275,45.2),(285,46.4),(295,45.8),(306,46.4),(318,45.3),(330,46.3),
    (343,45.8),(356,46.7),(369,45.4),(384,46.3),(399,45.8),(415,46.6),(433,45.4),(452,46.2),(473,45.7),(496,46.5),
    (521,45.3),(560,45.8),(600,46.2),(620,45.5),
    (162,43.9),(170,44.6),(178,43.4),(186,44.2),(194,43.8),(202,44.6),(210,43.3),(218,44.3),(226,43.8),(234,44.6),
    (242,43.4),(251,44.3),(260,43.9),(269,44.6),(278,43.3),(288,44.5),(298,43.8),(309,44.3),(321,43.4),(333,44.6),
    (346,43.8),(359,44.2),(372,43.5),(387,44.6),(402,43.9),(418,44.3),(436,43.4),(455,44.5),(476,43.9),(499,44.3),
    (524,43.5),(590,43.8),(612,44.3),
    (164,41.9),(172,42.6),(180,41.4),(188,42.3),(196,41.8),(204,42.6),(212,41.3),(220,42.2),(228,41.8),(236,42.6),
    (244,41.4),(253,42.3),(262,41.8),(271,42.5),(280,41.3),(290,42.4),(300,41.9),(311,42.3),(323,41.4),(335,42.6),
    (348,41.8),(361,42.2),(374,41.4),(389,42.6),(404,41.9),(420,42.3),(438,41.4),(457,42.5),(478,41.9),(501,42.3),
    (526,41.4),(565,42.0),(595,41.8),
    (166,39.9),(174,40.6),(182,39.4),(190,40.2),(198,39.8),(206,40.6),(214,39.3),(222,40.3),(230,39.8),(238,40.6),
    (246,39.4),(255,40.2),(264,39.9),(273,40.6),(282,39.3),(292,40.4),(302,39.8),(313,40.3),(325,39.4),(337,40.6),
    (350,39.8),(363,40.2),(376,39.4),(391,40.6),(406,39.9),(422,40.3),(440,39.4),(459,40.5),(480,39.9),(503,40.3),
    (528,39.4),(570,40.0),(600,39.8),(640,40.2),
    (168,37.9),(176,38.6),(184,37.4),(192,38.2),(200,37.8),(208,38.6),(216,37.3),(224,38.3),(232,37.8),(240,38.6),
    (248,37.4),(257,38.2),(266,37.9),(275,38.6),(284,37.3),(294,38.4),(304,37.8),(315,38.3),(327,37.4),(339,38.6),
    (352,37.8),(365,38.2),(378,37.4),(393,38.6),(408,37.9),(424,38.3),(442,37.4),(461,38.5),(482,37.9),(505,38.3),
    (530,37.4),(575,38.0),(608,37.7),(650,38.3),
    (169,35.9),(177,36.6),(185,35.4),(193,36.2),(201,35.8),(209,36.6),(217,35.3),(225,36.3),(233,35.8),(241,36.6),
    (249,35.4),(258,36.2),(267,35.9),(276,36.6),(285,35.3),(295,36.4),(305,35.8),(316,36.3),(328,35.4),(340,36.6),
    (353,35.8),(366,36.2),(379,35.4),(394,36.6),(409,35.9),(425,36.3),(443,35.4),(462,36.5),(483,35.9),(506,36.3),
    (531,35.4),(580,36.0),(612,35.7),(655,36.3),
    (170,33.9),(178,34.6),(186,33.4),(194,34.2),(202,33.8),(210,34.6),(218,33.3),(226,34.3),(234,33.8),(242,34.6),
    (250,33.4),(259,34.2),(268,33.9),(277,34.6),(286,33.3),(296,34.4),(306,33.8),(317,34.3),(329,33.4),(341,34.6),
    (354,33.8),(367,34.2),(380,33.4),(395,34.6),(410,33.9),(426,34.3),(444,33.4),(463,34.5),(484,33.9),(507,34.3),
    (532,33.4),(582,34.0),(615,33.7),(660,34.3),
    (171,31.9),(179,32.6),(187,31.4),(195,32.2),(203,31.8),(211,32.6),(219,31.3),(227,32.3),(235,31.8),(243,32.6),
    (251,31.4),(260,32.2),(269,31.9),(278,32.6),(287,31.3),(297,32.4),(307,31.8),(318,32.3),(330,31.4),(342,32.6),
    (355,31.8),(368,32.2),(381,31.4),(396,32.6),(411,31.9),(427,32.3),(445,31.4),(464,32.5),(485,31.9),(508,32.3),
    (533,31.4),(585,32.0),(620,31.7),(665,32.3),
    (172,29.9),(180,30.6),(188,29.4),(196,30.2),(204,29.8),(212,30.6),(220,29.3),(228,30.3),(236,29.8),(244,30.6),
    (252,29.4),(261,30.2),(270,29.9),(279,30.6),(288,29.3),(298,30.4),(308,29.8),(319,30.3),(331,29.4),(343,30.6),
    (356,29.8),(369,30.2),(382,29.4),(397,30.6),(412,29.9),(428,30.3),(446,29.4),(465,30.5),(486,29.9),(509,30.3),
    (534,29.4),(588,30.0),(625,29.7),(670,30.3),
    (172,27.9),(180,28.6),(188,27.4),(196,28.2),(204,27.8),(212,28.6),(220,27.3),(228,28.3),(236,27.8),(244,28.6),
    (252,27.4),(261,28.2),(270,27.9),(279,28.6),(288,27.3),(298,28.4),(308,27.8),(319,28.3),(331,27.4),(343,28.6),
    (356,27.8),(369,28.2),(382,27.4),(397,28.6),(412,27.9),(428,28.3),(446,27.4),(465,28.5),(486,27.9),(509,28.3),
    (534,27.4),(590,28.0),(630,27.7),(700,28.3),
    (173,25.9),(181,26.6),(189,25.4),(197,26.2),(205,25.8),(213,26.6),(221,25.3),(229,26.3),(237,25.8),(245,26.6),
    (253,25.4),(262,26.2),(271,25.9),(280,26.6),(289,25.3),(299,26.4),(309,25.8),(320,26.3),(332,25.4),(344,26.6),
    (357,25.8),(370,26.2),(383,25.4),(398,26.6),(413,25.9),(429,26.3),(447,25.4),(466,26.5),(487,25.9),(510,26.3),
    (535,25.4),(592,26.0),(635,25.7),(705,26.3),
    (174,23.9),(182,24.6),(190,23.4),(198,24.2),(206,23.8),(214,24.6),(222,23.3),(230,24.3),(238,23.8),(246,24.6),
    (254,23.4),(263,24.2),(272,23.9),(281,24.6),(290,23.3),(300,24.4),(310,23.8),(321,24.3),(333,23.4),(345,24.6),
    (358,23.8),(371,24.2),(384,23.4),(399,24.6),(414,23.9),(430,24.3),(448,23.4),(467,24.5),(488,23.9),(511,24.3),
    (536,23.4),(595,24.0),(640,23.7),(710,24.3),
    (174,21.9),(182,22.6),(190,21.4),(198,22.2),(206,21.8),(214,22.6),(222,21.3),(230,22.3),(238,21.8),(246,22.6),
    (254,21.4),(263,22.2),(272,21.9),(281,22.6),(290,21.3),(300,22.4),(310,21.8),(321,22.3),(333,21.4),(345,22.6),
    (358,21.8),(371,22.2),(384,21.4),(399,22.6),(414,21.9),(430,22.3),(448,21.4),(467,22.5),(488,21.9),(511,22.3),
    (536,21.4),(598,22.0),(645,21.7),(700,22.3),
    (176,20.3),(184,20.9),(192,19.9),(200,20.5),(208,20.2),(216,20.7),(224,19.8),(232,20.4),(240,20.1),(248,20.8),
    (256,19.9),(265,20.5),(274,20.2),(283,20.8),(292,19.8),(302,20.6),(312,20.1),(323,20.5),(335,19.9),(347,20.7),
    (360,20.2),(373,20.4),(386,19.8),(401,20.6),(416,20.1),(432,20.5),(450,19.9),(469,20.7),(490,20.1),(513,20.5),
    (538,19.9),(600,20.2),(650,19.9),
]

floor_pts = [
    (100,19.3),(96,19.2),(110,18.8),(125,19.1),(140,18.6),(152,19.4),(160,18.9),(168,19.2),(174,18.5),(180,19.0),
    (186,19.4),(192,18.7),(198,19.1),(204,18.4),(210,19.3),(216,18.8),(222,19.0),(228,18.5),(234,19.4),(240,18.9),
    (246,19.2),(252,18.6),(258,19.0),(264,19.4),(270,18.7),(276,19.1),(282,18.5),(288,19.3),(294,18.8),(300,19.0),
    (306,18.4),(312,19.3),(318,18.9),(324,19.1),(330,18.6),(336,19.4),(342,18.8),(348,19.1),(354,18.5),(360,19.2),
    (366,18.9),(372,19.3),(378,18.6),(384,19.0),(390,19.4),(396,18.7),(402,19.1),(408,18.5),(414,19.3),(420,18.8),
    (426,19.0),(432,18.5),(438,19.4),(444,18.9),(450,19.2),(457,18.6),(464,19.0),(471,19.4),(478,18.7),(485,19.1),
    (492,18.5),(499,19.3),(507,18.8),(515,19.0),(523,18.5),(531,19.4),(539,18.9),(548,19.2),(557,18.6),(566,19.0),
    (575,19.3),(585,18.7),(595,19.1),(605,18.5),(615,19.3),(626,18.8),(637,19.0),(648,18.5),(660,19.2),(672,18.8),
    (685,19.3),(698,18.6),(712,19.1),(726,18.9),(741,19.4),(765,19.2),(772,18.5),(796,18.9),(810,19.3),(832,19.3),
    (844,18.9),(854,18.9),(867,19.3),(884,19.4),(975,19.0),(1044,18.4),
    (171,18.8),(177,19.3),(183,18.6),(189,19.0),(195,18.4),(201,19.2),(207,18.9),(213,19.4),(219,18.6),(225,19.1),
    (231,18.8),(237,19.3),(243,18.5),(249,19.0),(255,19.4),(261,18.7),(267,19.2),(273,18.9),(279,19.3),(285,18.6),
    (291,19.1),(297,18.8),(303,19.4),(309,18.6),(315,19.0),(321,18.5),(327,19.3),(333,18.9),(339,19.2),(345,18.6),
    (351,19.0),(357,19.4),(363,18.7),(369,19.1),(375,18.9),(381,19.3),(387,18.5),(393,19.0),(399,18.8),(405,19.3),
    (411,18.6),(417,19.1),(423,18.9),(429,19.3),(435,18.6),(441,19.0),(447,18.7),(453,19.3),(460,18.8),(467,19.1),
    (475,18.6),(482,19.2),(489,18.9),(496,19.0),(504,18.6),(512,19.2),(520,18.8),(528,19.1),(536,18.6),(545,19.0),
]

# linear fit (endpoints) and its confidence ribbon half-width
fit_x = [23, 1195]
fit_y = [55.9, 11.3]
band_x = [23, 330, 600, 800, 1000, 1195]
band_half = [0.9, 0.3, 0.7, 1.1, 1.7, 2.5]

TICK = '#4d4d4d'
GRID = '#e9eef2'
EDGE = '#3b4444'

fig = plt.figure(figsize=(11.9, 11.17), dpi=100, facecolor='#fbfbfb')


def style(ax):
    ax.set_facecolor('#fcfdfe')
    for s in ax.spines.values():
        s.set_color(EDGE)
        s.set_linewidth(1.2)
    ax.tick_params(which='major', length=4, width=1, color=EDGE, labelcolor=TICK, labelsize=13, pad=3)
    ax.tick_params(which='minor', length=0)
    ax.grid(which='major', color=GRID, lw=1.0)
    ax.grid(which='minor', color='#f0f3f6', lw=0.6)
    ax.set_axisbelow(True)


# ---- top: box plot ----
ax1 = fig.add_axes([66/1190, 1 - 485/1117, 1106/1190, 435/1117])
style(ax1)
stats = []
for i, lab in enumerate(levels):
    stats.append(dict(label=lab, whislo=whisker_low[i], q1=q1[i], med=median[i],
                      q3=q3[i], whishi=whisker_high[i], fliers=[]))
ax1.bxp(stats, positions=[1, 2, 3], widths=0.75, showcaps=False, patch_artist=True,
        boxprops=dict(facecolor='white', edgecolor='#333333', linewidth=1.3),
        whiskerprops=dict(color='#333333', linewidth=1.3),
        medianprops=dict(color='#222222', linewidth=2.6))
ax1.set_xlim(0.4, 3.6)
ax1.set_ylim(14.5, 88.6)
ax1.set_yticks([30, 50, 70])
ax1.yaxis.set_minor_locator(FixedLocator([20, 40, 60, 80]))
ax1.set_xticks([1, 2, 3])
ax1.set_xticklabels(levels)
ax1.set_xlabel('Activity Level (Survey)', fontsize=15.3, labelpad=4)
ax1.set_ylabel('Age (years)', fontsize=15.3, labelpad=6)
ax1.set_title('Age Distribution by Activity Level', loc='left', fontsize=19, pad=9)

# ---- bottom: scatter with linear fit ----
ax2 = fig.add_axes([66/1190, 1 - 1048/1117, 1102/1190, 475/1117])
style(ax2)
pts = np.array(upper_pts + lower_pts + core_pts + floor_pts, dtype=float)
ax2.scatter(pts[:, 0], pts[:, 1], s=44, c='black', alpha=0.5, edgecolors='black',
            linewidths=0.8, zorder=2)

slope = (fit_y[1] - fit_y[0]) / (fit_x[1] - fit_x[0])
bx = np.array(band_x, dtype=float)
by = fit_y[0] + slope * (bx - fit_x[0])
half = np.array(band_half)
ax2.fill_between(bx, by - half, by + half, color='#9a9a9a', alpha=0.4, lw=0, zorder=3)
ax2.plot(fit_x, fit_y, color='#3366cc', lw=2.4, zorder=4)

ax2.set_xlim(-38, 1253)
ax2.set_ylim(5.1, 88.6)
ax2.set_xticks([0, 250, 500, 750, 1000, 1250])
ax2.xaxis.set_minor_locator(FixedLocator([125, 375, 625, 875, 1125]))
ax2.set_yticks([20, 40, 60, 80])
ax2.yaxis.set_minor_locator(FixedLocator([10, 30, 50, 70]))
ax2.set_xlabel('Average counts per minute', fontsize=15.3, labelpad=6)
ax2.set_ylabel('Age (years)', fontsize=15.3, labelpad=6)

fig.savefig('out.png', dpi=100, facecolor=fig.get_facecolor())
